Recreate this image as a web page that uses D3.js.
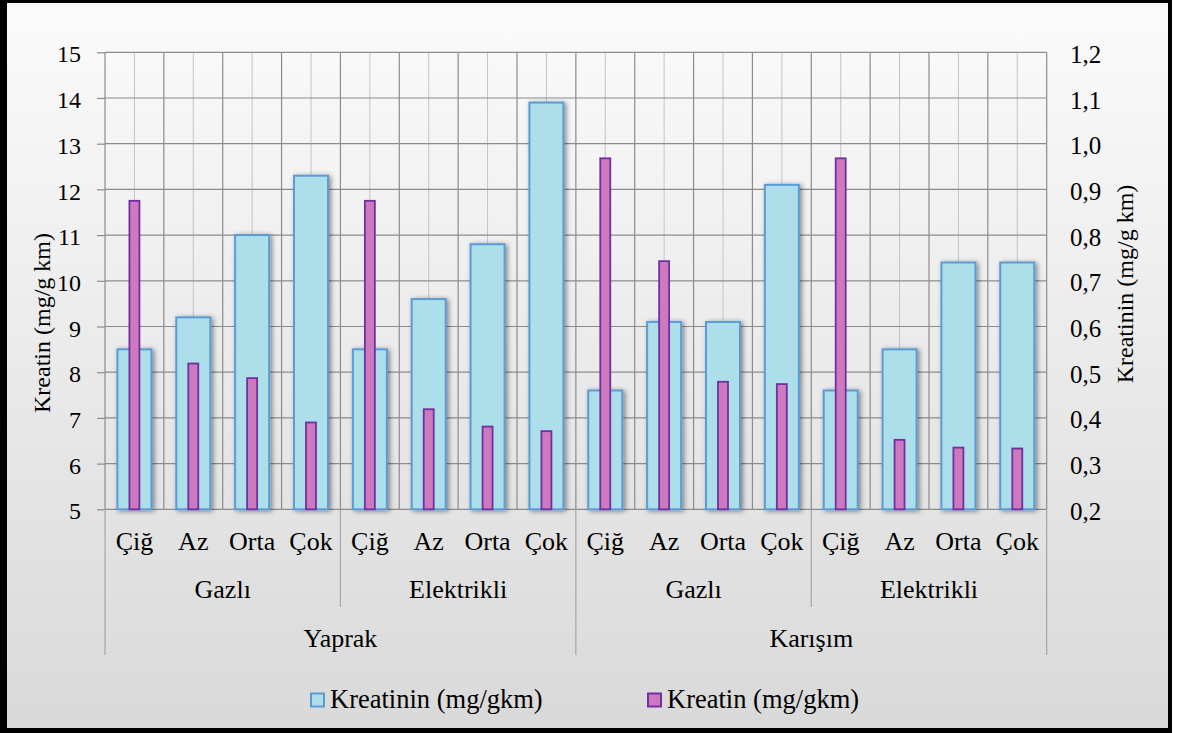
<!DOCTYPE html>
<html>
<head>
<meta charset="utf-8">
<script src="https://cdn.jsdelivr.net/npm/d3@7"></script>
<style>
  html, body { margin: 0; padding: 0; background: #fff; }
  svg { display: block; }
</style>
</head>
<body>
<svg id="chart" width="1187" height="733"></svg>
<script>
// ---- data ----
const level1 = ["Çiğ","Az","Orta","Çok","Çiğ","Az","Orta","Çok","Çiğ","Az","Orta","Çok","Çiğ","Az","Orta","Çok"];
const level2 = ["Gazlı","Elektrikli","Gazlı","Elektrikli"];
const level3 = ["Yaprak","Karışım"];
const kreatinin = [8.5, 9.2, 11.0, 12.3, 8.5, 9.6, 10.8, 13.9, 7.6, 9.1, 9.1, 12.1, 7.6, 8.5, 10.4, 10.4];
const kreatin = [0.875, 0.519, 0.487, 0.390, 0.875, 0.419, 0.381, 0.371, 0.968, 0.743, 0.479, 0.474, 0.968, 0.352, 0.335, 0.333];
const leftTicks = [5,6,7,8,9,10,11,12,13,14,15];
const rightTicks = [0.2,0.3,0.4,0.5,0.6,0.7,0.8,0.9,1.0,1.1,1.2];
const seriesNames = ["Kreatinin (mg/gkm)", "Kreatin (mg/gkm)"];
const leftTitle = "Kreatin (mg/g km)";
const rightTitle = "Kreatinin (mg/g km)";

const FONT = "Liberation Serif";
function serif(sel, size) {
  return sel.style("font-family", FONT).style("font-size", size + "px").style("fill", "#000");
}

// ---- layout ----
const svg = d3.select("#chart");
const L = 105, R = 1046.7, T = 52.3, B = 509.3;

const defs = svg.append("defs");
const grad = defs.append("linearGradient").attr("id","bg").attr("x1",0).attr("y1",0).attr("x2",0).attr("y2",1);
grad.append("stop").attr("offset","0%").attr("stop-color","#fbfbfb");
grad.append("stop").attr("offset","100%").attr("stop-color","#d9d9d9");
const sh = defs.append("filter").attr("id","shadow").attr("x","-50%").attr("y","-20%").attr("width","200%").attr("height","140%");
sh.append("feDropShadow").attr("dx",2).attr("dy",1).attr("stdDeviation",2.5).attr("flood-color","#000").attr("flood-opacity",0.45);

// frame
svg.append("rect").attr("x",0).attr("y",0).attr("width",1172).attr("height",733).attr("fill","#000");
svg.append("rect").attr("x",7).attr("y",3).attr("width",1161).attr("height",725).attr("fill","url(#bg)");

const x = d3.scaleBand().domain(d3.range(level1.length)).range([L, R]).padding(0);
const yL = d3.scaleLinear().domain([5, 15]).range([B, T]);
const yR = d3.scaleLinear().domain([0.2, 1.2]).range([B, T]);
const bw = x.bandwidth();

// grid: light verticals at category centres
svg.append("g").selectAll("line").data(d3.range(level1.length)).join("line")
  .attr("x1", i => x(i) + bw/2).attr("x2", i => x(i) + bw/2)
  .attr("y1", T).attr("y2", B)
  .attr("stroke", "#c4c4c4").attr("stroke-width", 1);
// dark verticals at category boundaries
svg.append("g").selectAll("line").data(d3.range(level1.length + 1)).join("line")
  .attr("x1", i => L + i*bw).attr("x2", i => L + i*bw)
  .attr("y1", T).attr("y2", B)
  .attr("stroke", "#8c8c8c").attr("stroke-width", 1.2);
// horizontal grid
svg.append("g").selectAll("line").data(leftTicks).join("line")
  .attr("x1", L).attr("x2", R)
  .attr("y1", d => yL(d)).attr("y2", d => yL(d))
  .attr("stroke", "#8c8c8c").attr("stroke-width", 1.2);

// left axis
const axL = svg.append("g").attr("transform", `translate(${L},0)`)
  .call(d3.axisLeft(yL).tickValues(leftTicks).tickSize(8).tickPadding(16).tickFormat(d3.format("d")));
axL.select(".domain").remove();
axL.selectAll(".tick line").attr("stroke", "#8c8c8c").attr("stroke-width", 1.2);
serif(axL.selectAll(".tick text"), 24).attr("dy", "0.4em");

// right axis
const axR = svg.append("g").attr("transform", `translate(${R},0)`)
  .call(d3.axisRight(yR).tickValues(rightTicks).tickSize(0).tickPadding(23.3)
    .tickFormat(d => d.toFixed(1).replace(".", ",")));
axR.select(".domain").remove();
serif(axR.selectAll(".tick text"), 25).attr("dy", "0.4em");

// bars: Kreatinin (wide, left axis)
const blueW = 34;
svg.append("g").attr("filter", "url(#shadow)").selectAll("rect").data(kreatinin).join("rect")
  .attr("x", (d,i) => x(i) + bw/2 - blueW/2)
  .attr("width", blueW)
  .attr("y", d => yL(d))
  .attr("height", d => yL(5) - yL(d))
  .attr("fill", "#addfea").attr("stroke", "#5b9bd5").attr("stroke-width", 2);

// bars: Kreatin (narrow, right axis)
const purW = 10;
svg.append("g").selectAll("rect").data(kreatin).join("rect")
  .attr("x", (d,i) => x(i) + bw/2 - purW/2)
  .attr("width", purW)
  .attr("y", d => yR(d))
  .attr("height", d => yR(0.2) - yR(d))
  .attr("fill", "#cc79bf").attr("stroke", "#7030a0").attr("stroke-width", 1.8);

// multi-level category axis
const CAT = 26;
const sepColor = "#a6a6a6";
serif(svg.append("g").selectAll("text").data(level1).join("text")
  .attr("x", (d,i) => x(i) + bw/2).attr("y", 550)
  .attr("text-anchor", "middle").text(d => d), CAT);
const g2 = level1.length / level2.length;
serif(svg.append("g").selectAll("text").data(level2).join("text")
  .attr("x", (d,i) => x(i*g2) + bw*g2/2).attr("y", 598)
  .attr("text-anchor", "middle").text(d => d), CAT);
const g3 = level1.length / level3.length;
serif(svg.append("g").selectAll("text").data(level3).join("text")
  .attr("x", (d,i) => x(i*g3) + bw*g3/2).attr("y", 647)
  .attr("text-anchor", "middle").text(d => d), CAT);
svg.append("g").selectAll("line").data(d3.range(1, level2.length).filter(i => (i*g2) % g3 !== 0)).join("line")
  .attr("x1", i => L + i*g2*bw).attr("x2", i => L + i*g2*bw)
  .attr("y1", B).attr("y2", 607)
  .attr("stroke", sepColor).attr("stroke-width", 1.2);
svg.append("g").selectAll("line").data(d3.range(0, level3.length + 1)).join("line")
  .attr("x1", i => L + i*g3*bw).attr("x2", i => L + i*g3*bw)
  .attr("y1", B).attr("y2", 655)
  .attr("stroke", sepColor).attr("stroke-width", 1.2);

// axis titles
serif(svg.append("text").attr("transform", `translate(50,323) rotate(-90)`)
  .attr("text-anchor", "middle").text(leftTitle), 24);
serif(svg.append("text").attr("transform", `translate(1133,284) rotate(-90)`)
  .attr("text-anchor", "middle").text(rightTitle), 24);

// legend
const legend = [
  {name: seriesNames[0], x: 310, fill: "#addfea", stroke: "#5b9bd5"},
  {name: seriesNames[1], x: 647, fill: "#cc79bf", stroke: "#7030a0"}
];
const lg = svg.append("g").selectAll("g").data(legend).join("g");
lg.append("rect").attr("x", d => d.x + 1).attr("y", 693.5).attr("width", 13).attr("height", 13)
  .attr("fill", d => d.fill).attr("stroke", d => d.stroke).attr("stroke-width", 2);
serif(lg.append("text").attr("x", d => d.x + 20).attr("y", 708).text(d => d.name), 26.5);
</script>
</body>
</html>
